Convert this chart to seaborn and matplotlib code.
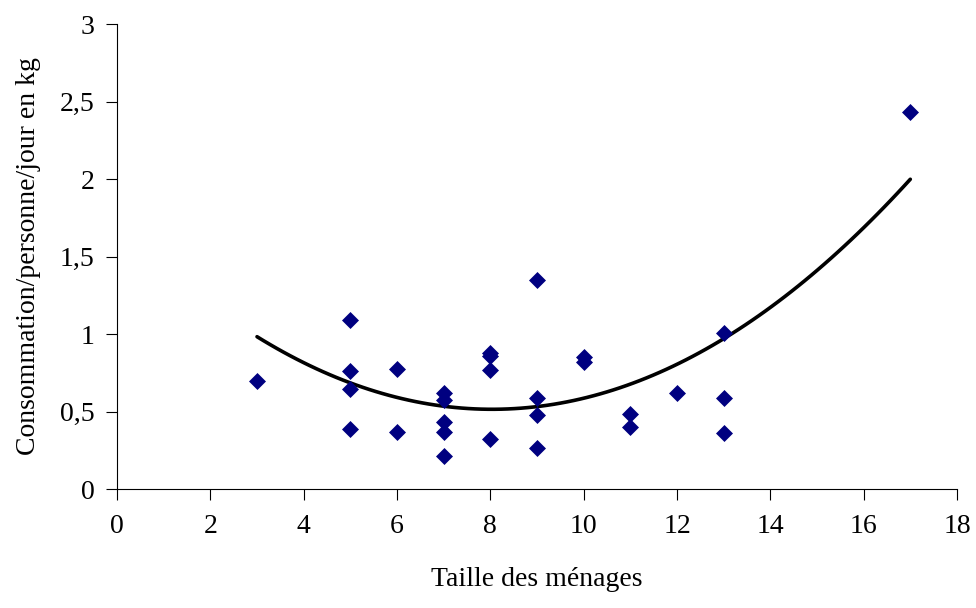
import matplotlib
matplotlib.use("Agg")
import matplotlib.pyplot as plt
import seaborn as sns
import pandas as pd
import numpy as np

taille = [3, 5, 5, 5, 5, 6, 6, 7, 7, 7, 7, 7, 8, 8, 8, 8, 9, 9, 9, 9, 10, 10, 11, 11, 12, 13, 13, 13, 17]
conso = [0.70, 1.09, 0.76, 0.645, 0.39, 0.775, 0.37, 0.62, 0.575, 0.435, 0.37, 0.21,
         0.875, 0.855, 0.77, 0.325, 1.35, 0.585, 0.475, 0.265, 0.85, 0.82, 0.485, 0.40,
         0.62, 1.005, 0.585, 0.36, 2.43]

x_ticks = [0, 2, 4, 6, 8, 10, 12, 14, 16, 18]
y_ticks = [0, 0.5, 1, 1.5, 2, 2.5, 3]
y_labels = ["0", "0,5", "1", "1,5", "2", "2,5", "3"]

df = pd.DataFrame({"taille": taille, "conso": conso})

sns.set_style("white")
plt.rcParams["font.family"] = ["Liberation Serif", "DejaVu Serif"]
plt.rcParams["text.color"] = "black"
plt.rcParams["axes.labelcolor"] = "black"
plt.rcParams["xtick.color"] = "black"
plt.rcParams["ytick.color"] = "black"

fig = plt.figure(figsize=(9.76, 6.08), dpi=100)
ax = fig.add_axes([0.1199, 0.1957, 0.8606, 0.7648])

sns.regplot(data=df, x="taille", y="conso", order=2, ci=None, scatter=False,
            truncate=True, line_kws={"color": "black", "lw": 2.6}, ax=ax)
sns.scatterplot(data=df, x="taille", y="conso", marker="D", s=75, color="#000080",
                edgecolor="#000080", linewidth=0, ax=ax, zorder=3)

ax.set_xlim(0, 18)
ax.set_ylim(0, 3)
ax.set_xticks(x_ticks)
ax.set_xticklabels([str(v) for v in x_ticks])
ax.set_yticks(y_ticks)
ax.set_yticklabels(y_labels)
ax.tick_params(axis="both", labelsize=20, length=8, width=0.8, colors="black",
               direction="out", bottom=True, left=True)
ax.tick_params(axis="x", pad=10)
ax.tick_params(axis="y", pad=8)
for s in ["top", "right"]:
    ax.spines[s].set_visible(False)
for s in ["left", "bottom"]:
    ax.spines[s].set_color("black")
    ax.spines[s].set_linewidth(0.8)

ax.set_xlabel("Taille des ménages", fontsize=20, labelpad=20, color="black")
ax.set_ylabel("Consommation/personne/jour en kg", fontsize=20, labelpad=14, color="black")

fig.savefig("out.png", dpi=100)
